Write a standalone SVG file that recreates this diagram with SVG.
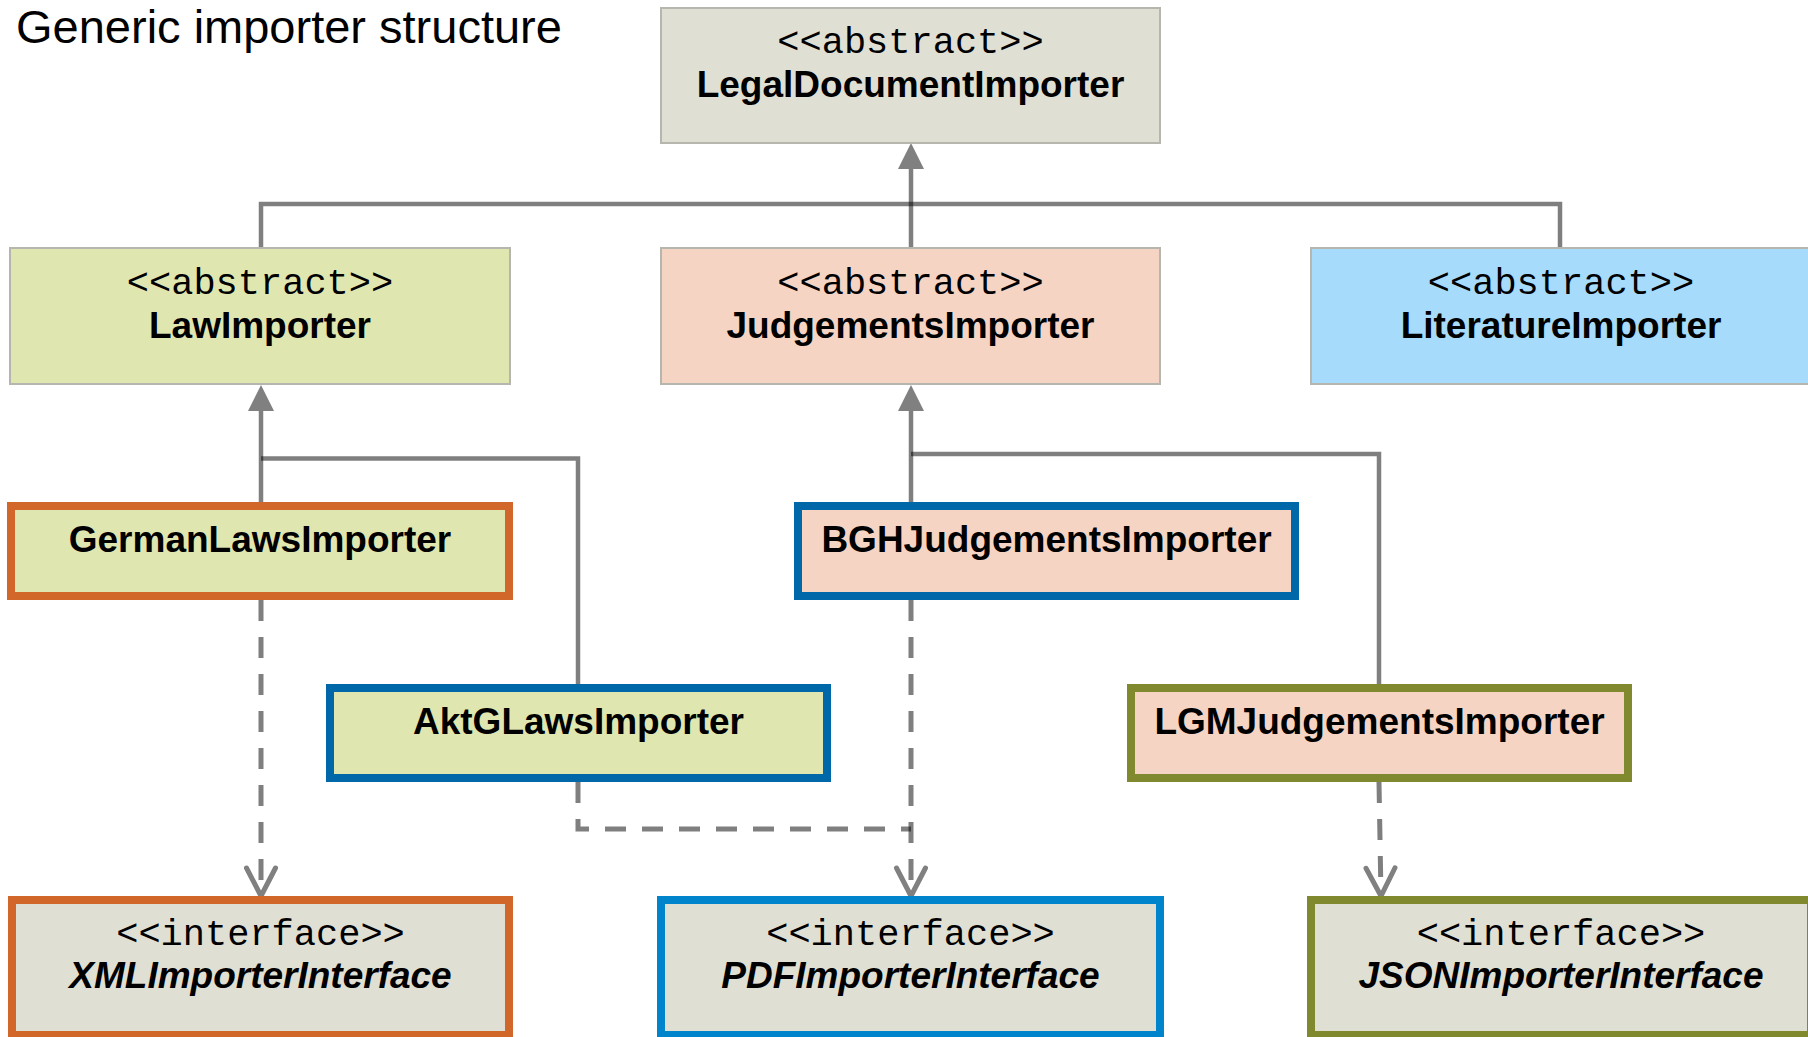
<svg xmlns="http://www.w3.org/2000/svg" width="1808" height="1037" viewBox="0 0 1808 1037">
<style>
  .thin { stroke: #b6b6ae; stroke-width: 2; }
  .thick { stroke-width: 8; }
  .gray { fill: #e0dfd4; }
  .law { fill: #e0e6b0; }
  .judg { fill: #f5d4c4; }
  .lit { fill: #a6dbfc; }
  .orange { stroke: #d2672a; }
  .blue { stroke: #0068a8; }
  .blue2 { stroke: #0085cc; }
  .olive { stroke: #80892e; }
  .mono { font-family: "Liberation Mono", "Courier New", monospace; font-size: 37px; fill: #000; text-anchor: middle; }
  .name { font-family: "Liberation Sans", Arial, sans-serif; font-size: 37px; font-weight: bold; fill: #000; text-anchor: middle; }
  .ital { font-style: italic; }
  .title { font-family: "Liberation Sans", Arial, sans-serif; font-size: 47px; fill: #000; }
  .line { fill: none; stroke: #000; stroke-opacity: 0.5; stroke-width: 4.5; }
  .dash { fill: none; stroke: #000; stroke-opacity: 0.5; stroke-width: 5; stroke-dasharray: 21 16; }
</style>
<defs>
  <marker id="tri" markerUnits="userSpaceOnUse" markerWidth="30" markerHeight="30" refX="0" refY="0" orient="auto" overflow="visible">
    <path d="M0,-13 L26,0 L0,13 Z" fill="#808080"/>
  </marker>
  <marker id="open" markerUnits="userSpaceOnUse" markerWidth="40" markerHeight="40" refX="0" refY="0" orient="auto" overflow="visible">
    <path d="M-28,-14.5 L0,0 L-28,14.5" fill="none" stroke="#808080" stroke-width="5" stroke-linecap="round" stroke-linejoin="miter"/>
  </marker>
</defs>
<rect width="1808" height="1037" fill="#fff"/>
<text class="title" x="16" y="43">Generic importer structure</text>

<g id="connectors">
  <path class="line" d="M261,248 V204 H1560 V248"/>
  <path class="line" d="M911,248 V169" marker-end="url(#tri)"/>
  <path class="line" d="M261,502 V411" marker-end="url(#tri)"/>
  <path class="line" d="M261,458.5 H578 V684"/>
  <path class="line" d="M911,502 V411" marker-end="url(#tri)"/>
  <path class="line" d="M911,454 H1379 V684"/>
  <path class="dash" d="M261,600 V896" marker-end="url(#open)"/>
  <path class="dash" d="M911,600 V896" marker-end="url(#open)"/>
  <path class="dash" d="M578,782 V829 H911"/>
  <path class="dash" d="M1379,782 L1381,896" marker-end="url(#open)"/>
</g>

<g id="LegalDocumentImporter">
  <rect class="gray thin" x="661" y="8" width="499" height="135"/>
  <text class="mono" x="910.5" y="53">&lt;&lt;abstract&gt;&gt;</text>
  <text class="name" x="910.5" y="97">LegalDocumentImporter</text>
</g>
<g id="LawImporter">
  <rect class="law thin" x="10" y="248" width="500" height="136"/>
  <text class="mono" x="260" y="294">&lt;&lt;abstract&gt;&gt;</text>
  <text class="name" x="260" y="338">LawImporter</text>
</g>
<g id="JudgementsImporter">
  <rect class="judg thin" x="661" y="248" width="499" height="136"/>
  <text class="mono" x="910.5" y="294">&lt;&lt;abstract&gt;&gt;</text>
  <text class="name" x="910.5" y="338">JudgementsImporter</text>
</g>
<g id="LiteratureImporter">
  <rect class="lit thin" x="1311" y="248" width="500" height="136"/>
  <text class="mono" x="1561" y="294">&lt;&lt;abstract&gt;&gt;</text>
  <text class="name" x="1561" y="338">LiteratureImporter</text>
</g>
<g id="GermanLawsImporter">
  <rect class="law thick orange" x="11" y="506" width="498" height="90"/>
  <text class="name" x="260" y="552">GermanLawsImporter</text>
</g>
<g id="BGHJudgementsImporter">
  <rect class="judg thick blue" x="798" y="506" width="497" height="90"/>
  <text class="name" x="1046.5" y="552">BGHJudgementsImporter</text>
</g>
<g id="AktGLawsImporter">
  <rect class="law thick blue" x="330" y="688" width="497" height="90"/>
  <text class="name" x="578.5" y="734">AktGLawsImporter</text>
</g>
<g id="LGMJudgementsImporter">
  <rect class="judg thick olive" x="1131" y="688" width="497" height="90"/>
  <text class="name" x="1379.5" y="734">LGMJudgementsImporter</text>
</g>
<g id="XMLImporterInterface">
  <rect class="gray thick orange" x="12" y="900" width="497" height="135"/>
  <text class="mono" x="260.5" y="945">&lt;&lt;interface&gt;&gt;</text>
  <text class="name ital" x="260.5" y="988">XMLImporterInterface</text>
</g>
<g id="PDFImporterInterface">
  <rect class="gray thick blue2" x="661" y="900" width="499" height="135"/>
  <text class="mono" x="910.5" y="945">&lt;&lt;interface&gt;&gt;</text>
  <text class="name ital" x="910.5" y="988">PDFImporterInterface</text>
</g>
<g id="JSONImporterInterface">
  <rect class="gray thick olive" x="1311" y="900" width="500" height="135"/>
  <text class="mono" x="1561" y="945">&lt;&lt;interface&gt;&gt;</text>
  <text class="name ital" x="1561" y="988">JSONImporterInterface</text>
</g>
</svg>
